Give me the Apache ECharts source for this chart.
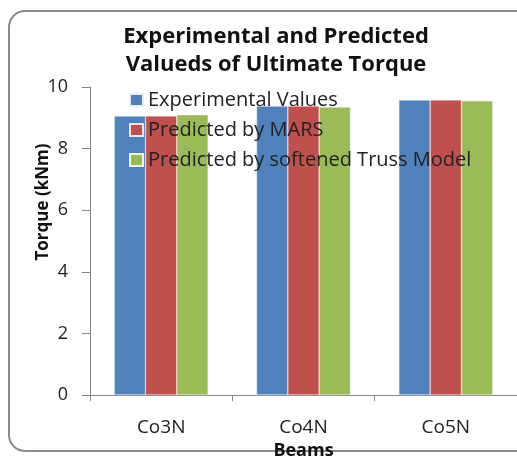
<!DOCTYPE html>
<html>
<head>
<meta charset="utf-8">
<script src="https://cdn.jsdelivr.net/npm/echarts@6/dist/echarts.min.js"></script>
<style>
  html, body { margin: 0; padding: 0; background: #ffffff; }
  #chart { width: 517px; height: 456px; }
</style>
</head>
<body>
<div id="chart"></div>
<script>
  var beams = ['Co3N', 'Co4N', 'Co5N'];
  var experimental = [9.06, 9.38, 9.58];
  var mars = [9.06, 9.38, 9.58];
  var truss = [9.10, 9.35, 9.55];
  var seriesNames = ['Experimental Values', 'Predicted by MARS', 'Predicted by softened Truss Model'];
  var colors = ['#4F81BD', '#C0504D', '#9BBB59'];

  var myChart = echarts.init(document.getElementById('chart'));
  var font = 'Open Sans';
  var option = {
    animation: false,
    color: colors,
    title: {
      text: 'Experimental and Predicted\nValueds of Ultimate Torque',
      left: 271,
      textAlign: 'center',
      top: 18,
      textStyle: { fontFamily: font, fontSize: 22, fontWeight: 'bold', color: '#111', lineHeight: 28 }
    },
    graphic: [{
      type: 'rect',
      shape: { x: 9, y: 11, width: 540, height: 440, r: 16 },
      style: { fill: 'none', stroke: '#8a8a8a', lineWidth: 2 },
      silent: true
    }, {
      // y-axis title, sits a bit above the axis middle like the original
      type: 'text',
      x: 43,
      y: 202,
      rotation: Math.PI / 2,
      style: {
        text: 'Torque (kNm)',
        fontFamily: font, fontSize: 17, fontWeight: 'bold', fill: '#111',
        align: 'center', verticalAlign: 'middle'
      },
      silent: true
    }],
    legend: {
      data: seriesNames,
      orient: 'vertical',
      left: 124,
      top: 85,
      itemWidth: 13,
      itemHeight: 12,
      itemGap: 10,
      icon: 'rect',
      textStyle: { fontFamily: font, fontSize: 20, color: '#222' }
    },
    grid: { left: 90, right: 0, top: 87, bottom: 61, outerBoundsMode: 'none' },
    xAxis: {
      type: 'category',
      data: beams,
      name: 'Beams',
      nameLocation: 'middle',
      nameGap: 40,
      nameTextStyle: { fontFamily: font, fontSize: 18, fontWeight: 'bold', color: '#111' },
      axisLine: { lineStyle: { color: '#868686' } },
      axisTick: { show: true, length: 6, lineStyle: { color: '#868686' } },
      axisLabel: { fontFamily: font, fontSize: 19, color: '#222', margin: 23 }
    },
    yAxis: {
      type: 'value',
      min: 0,
      max: 10,
      interval: 2,
      axisLine: { show: true, lineStyle: { color: '#868686' } },
      axisTick: { show: true, length: 8, lineStyle: { color: '#868686' } },
      axisLabel: { fontFamily: font, fontSize: 18, color: '#222', margin: 22 },
      splitLine: { show: false }
    },
    series: [
      { name: seriesNames[0], type: 'bar', data: experimental, barGap: '0%', barCategoryGap: '34%',
        itemStyle: { borderColor: '#e8eef6', borderWidth: 0.5 } },
      { name: seriesNames[1], type: 'bar', data: mars, barGap: '0%', barCategoryGap: '34%',
        itemStyle: { borderColor: '#f3e3e3', borderWidth: 0.5 } },
      { name: seriesNames[2], type: 'bar', data: truss, barGap: '0%', barCategoryGap: '34%',
        itemStyle: { borderColor: '#eef3e4', borderWidth: 0.5 } }
    ]
  };
  myChart.setOption(option);
</script>
</body>
</html>
